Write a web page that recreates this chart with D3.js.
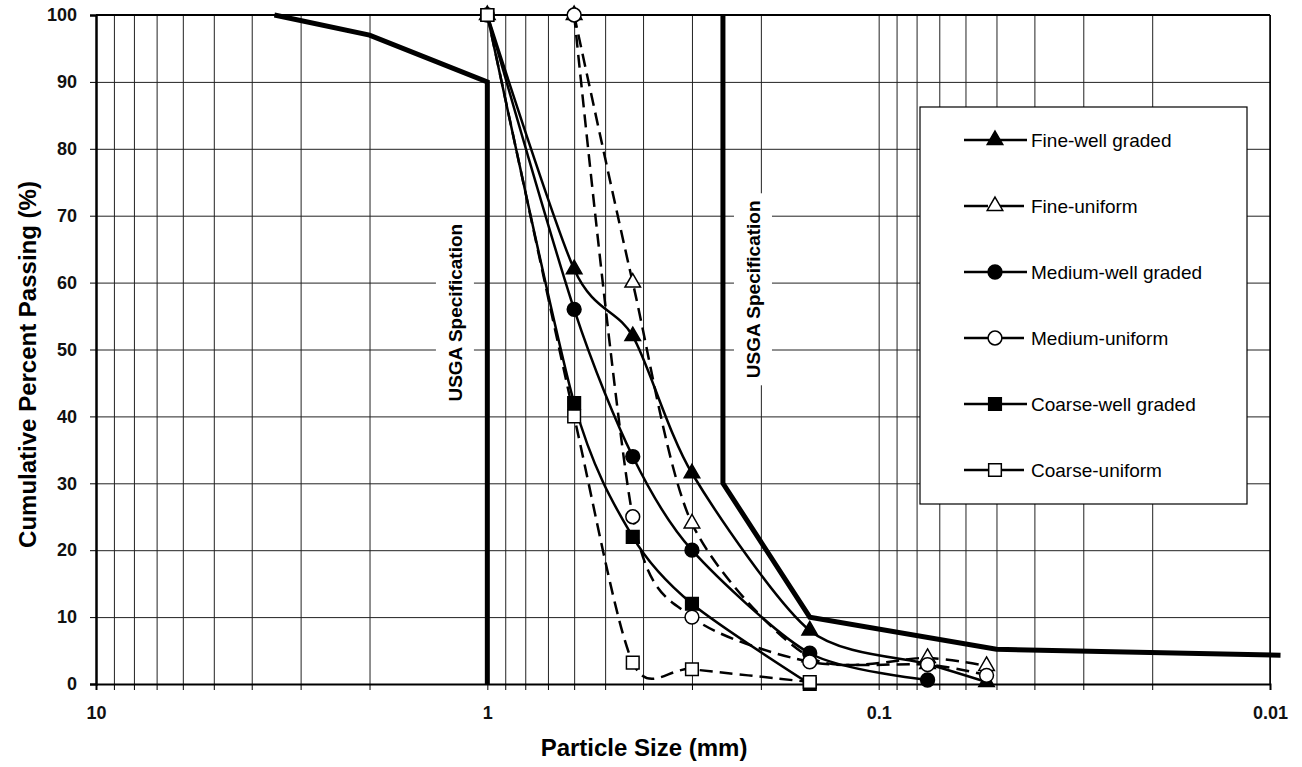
<!DOCTYPE html>
<html>
<head>
<meta charset="utf-8">
<script src="https://cdn.jsdelivr.net/npm/d3@7"></script>
<style>
  body { margin: 0; background: #fff; }
  svg { font-family: "Liberation Sans", Arial, sans-serif; }
</style>
</head>
<body>
<div class="canvas"></div>
<script>
// sieve sizes (mm) and percent passing per sand
const sieveSizes = [1, 0.6, 0.425, 0.3, 0.15, 0.075, 0.053];
const fineWell = [100, 62, 52, 31.5, 8, 3, 0.3];
const fineUniform = [null, 100, 60, 24, 4, 3.9, 2.7];
const mediumWell = [100, 56, 34, 20, 4.6, 0.6, null];
const mediumUniform = [null, 100, 25, 10, 3.3, 2.9, 1.3];
const coarseWell = [100, 42, 22, 12, 0, null, null];
const coarseUniform = [100, 40, 3.2, 2.2, 0.3, null, null];

// USGA specification envelope
const specCoarseSize = [3.5, 2, 1, 1];
const specCoarsePct = [100, 97, 90, 0];
const specFineSize = [0.25, 0.25, 0.15, 0.05, 0.0094];
const specFinePct = [100, 30, 10, 5.2, 4.3];

const xTickLabels = [10, 1, 0.1, 0.01];
const yTicks = [0, 10, 20, 30, 40, 50, 60, 70, 80, 90, 100];

const seriesNames = ['Fine-well graded', 'Fine-uniform', 'Medium-well graded',
  'Medium-uniform', 'Coarse-well graded', 'Coarse-uniform'];
const seriesValues = [fineWell, fineUniform, mediumWell, mediumUniform, coarseWell, coarseUniform];
const seriesSymbols = [d3.symbolTriangle, d3.symbolTriangle, d3.symbolCircle,
  d3.symbolCircle, d3.symbolSquare, d3.symbolSquare];
const seriesFilled = [true, false, true, false, true, false];
const seriesDashed = [false, true, false, true, false, true];

const margin = {top: 15, right: 32, bottom: 83, left: 96};
const width = 1302, height = 767;
const plotRight = width - margin.right;
const plotBottom = height - margin.bottom;

const svg = d3.select('.canvas')
  .append('svg')
  .attr('width', width)
  .attr('height', height);

// scales
const x = d3.scaleLog().domain([10, 0.01]).range([margin.left, plotRight]);
const y = d3.scaleLinear().domain([0, 100]).range([plotBottom, margin.top]);

// all log grid values between 10 and 0.01
const gridX = [];
[1, 0.1, 0.01].forEach(dec => {
  for (let i = 1; i <= 9; i++) gridX.push(+(i * dec).toFixed(4));
});
gridX.push(10);

// gridlines
svg.append('g')
  .attr('class', 'grid-x')
  .attr('transform', `translate(0, ${plotBottom})`)
  .call(d3.axisBottom(x).tickValues(gridX).tickSize(-(plotBottom - margin.top)).tickFormat(''))
  .call(g => g.select('.domain').remove())
  .selectAll('line').attr('stroke', '#222').attr('stroke-width', 1);

svg.append('g')
  .attr('class', 'grid-y')
  .attr('transform', `translate(${margin.left}, 0)`)
  .call(d3.axisLeft(y).tickValues(yTicks).tickSize(-(plotRight - margin.left)).tickFormat(''))
  .call(g => g.select('.domain').remove())
  .selectAll('line').attr('stroke', '#222').attr('stroke-width', 1);

// frame
svg.append('line').attr('x1', margin.left).attr('x2', plotRight)
  .attr('y1', margin.top).attr('y2', margin.top)
  .attr('stroke', '#000').attr('stroke-width', 1.8);
svg.append('line').attr('x1', plotRight).attr('x2', plotRight)
  .attr('y1', margin.top).attr('y2', plotBottom)
  .attr('stroke', '#000').attr('stroke-width', 1.5);

// axes
const xAxis = d3.axisBottom(x)
  .tickValues(gridX)
  .tickSize(6)
  .tickFormat(d => xTickLabels.includes(d) ? String(d) : '');

const yAxis = d3.axisLeft(y)
  .tickValues(yTicks)
  .tickSize(6)
  .tickFormat(d => d);

const xAxisGroup = svg.append('g')
  .attr('transform', `translate(0, ${plotBottom})`)
  .call(xAxis);
xAxisGroup.select('.domain').attr('stroke', '#000').attr('stroke-width', 2);
xAxisGroup.selectAll('line').attr('stroke', '#000');
xAxisGroup.selectAll('text')
  .attr('dy', '1.45em')
  .style('font-size', '18px')
  .style('font-weight', 'bold')
  .attr('fill', '#111');

const yAxisGroup = svg.append('g')
  .attr('transform', `translate(${margin.left}, 0)`)
  .call(yAxis);
yAxisGroup.select('.domain').attr('stroke', '#000').attr('stroke-width', 2.5);
yAxisGroup.selectAll('line').attr('stroke', '#000');
yAxisGroup.selectAll('text')
  .attr('x', -19)
  .style('font-size', '18px')
  .style('font-weight', 'bold')
  .attr('fill', '#111');

// axis titles
svg.append('text')
  .attr('x', 644)
  .attr('y', 756)
  .attr('text-anchor', 'middle')
  .style('font-size', '24px')
  .style('font-weight', 'bold')
  .text('Particle Size (mm)');

svg.append('text')
  .attr('transform', `translate(36, ${(margin.top + plotBottom) / 2 + 15}) rotate(-90)`)
  .attr('text-anchor', 'middle')
  .style('font-size', '24px')
  .style('font-weight', 'bold')
  .text('Cumulative Percent Passing (%)');

// USGA specification labels (white box hides the grid behind)
const specLabels = [
  {size: 1.21, pct: 55.5, half: 91},
  {size: 0.2095, pct: 59, half: 96}
];
specLabels.forEach(s => {
  const g = svg.append('g')
    .attr('transform', `translate(${x(s.size)}, ${y(s.pct)}) rotate(-90)`);
  g.append('rect')
    .attr('x', -s.half).attr('y', -19)
    .attr('width', s.half * 2).attr('height', 38)
    .attr('fill', '#fff');
  g.append('text')
    .attr('text-anchor', 'middle')
    .attr('dy', '0.36em')
    .style('font-size', '19px')
    .style('font-weight', 'bold')
    .text('USGA Specification');
});

// specification lines
const specLine = d3.line()
  .x(d => x(d[0]))
  .y(d => y(d[1]));

svg.append('path')
  .datum(d3.zip(specCoarseSize, specCoarsePct))
  .attr('fill', 'none')
  .attr('stroke', '#000')
  .attr('stroke-width', 5)
  .attr('d', specLine);

svg.append('path')
  .datum(d3.zip(specFineSize, specFinePct))
  .attr('fill', 'none')
  .attr('stroke', '#000')
  .attr('stroke-width', 5)
  .attr('d', specLine);

// smoothed series lines
const seriesLine = d3.line()
  .x(d => x(d[0]))
  .y(d => y(d[1]))
  .curve(d3.curveCardinal.tension(0.2));

const seriesData = seriesValues.map(vals =>
  d3.zip(sieveSizes, vals).filter(d => d[1] !== null));

seriesData.forEach((data, i) => {
  svg.append('path')
    .datum(data)
    .attr('fill', 'none')
    .attr('stroke', '#000')
    .attr('stroke-width', 2.5)
    .attr('stroke-dasharray', seriesDashed[i] ? '13,7' : null)
    .attr('d', seriesLine);
});

// markers
const symbolSize = i => seriesSymbols[i] === d3.symbolTriangle ? 105
  : seriesSymbols[i] === d3.symbolCircle ? 150 : 160;

seriesData.forEach((data, i) => {
  svg.append('g')
    .selectAll('path')
    .data(data)
    .join('path')
    .attr('transform', d => `translate(${x(d[0])}, ${y(d[1])})`)
    .attr('d', d3.symbol().type(seriesSymbols[i]).size(symbolSize(i)))
    .attr('fill', seriesFilled[i] ? '#000' : '#fff')
    .attr('stroke', '#000')
    .attr('stroke-width', 1.5);
});

// legend
const legend = svg.append('g').attr('class', 'legend');
legend.append('rect')
  .attr('x', 920).attr('y', 107)
  .attr('width', 327).attr('height', 397)
  .attr('fill', '#fff')
  .attr('stroke', '#000')
  .attr('stroke-width', 1.2);

seriesNames.forEach((name, i) => {
  const ly = 140 + i * 66;
  legend.append('line')
    .attr('x1', 964).attr('x2', 1027)
    .attr('y1', ly).attr('y2', ly)
    .attr('stroke', '#000')
    .attr('stroke-width', 2.5)
    .attr('stroke-dasharray', seriesDashed[i] ? '24,6,30' : null);
  legend.append('path')
    .attr('transform', `translate(995, ${ly})`)
    .attr('d', d3.symbol().type(seriesSymbols[i]).size(symbolSize(i)))
    .attr('fill', seriesFilled[i] ? '#000' : '#fff')
    .attr('stroke', '#000')
    .attr('stroke-width', 1.5);
  legend.append('text')
    .attr('x', 1031)
    .attr('y', ly)
    .attr('dy', '0.36em')
    .style('font-size', '19px')
    .text(name);
});
</script>
</body>
</html>
